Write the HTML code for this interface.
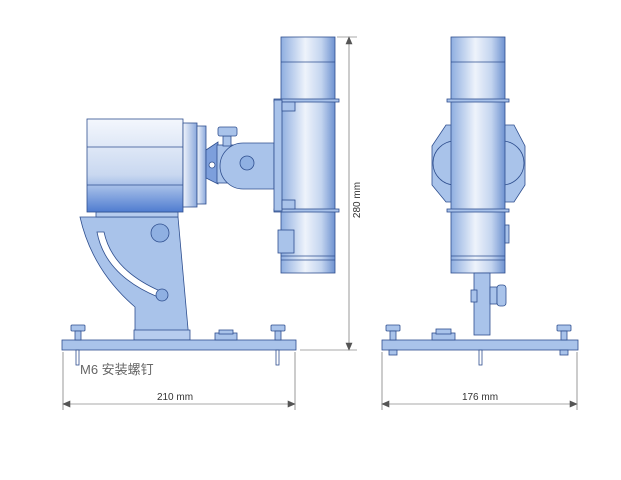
<!DOCTYPE html>
<html><head><meta charset="utf-8"><style>
html,body{margin:0;padding:0;background:#fff;width:621px;height:480px;overflow:hidden}
svg{display:block}
text{font-family:"Liberation Sans","Noto Sans CJK SC",sans-serif;fill:#333}
</style></head><body>
<svg width="621" height="480" viewBox="0 0 621 480">
<defs>
<linearGradient id="tube" x1="0" x2="1" y1="0" y2="0">
<stop offset="0" stop-color="#8eaee0"/><stop offset="0.45" stop-color="#eef3fb"/><stop offset="0.75" stop-color="#c3d4ef"/><stop offset="1" stop-color="#6e92d0"/></linearGradient>
<linearGradient id="cam" x1="0" x2="0" y1="0" y2="1">
<stop offset="0" stop-color="#f4f7fd"/><stop offset="0.6" stop-color="#c9d8f0"/><stop offset="0.75" stop-color="#9db8e6"/><stop offset="1" stop-color="#4f7cd0"/></linearGradient>
<linearGradient id="fl" x1="0" x2="1"><stop offset="0" stop-color="#f0f4fb"/><stop offset="1" stop-color="#8aa8dc"/></linearGradient>
</defs>
<g stroke="#2f4f8f" stroke-width="0.8">
<!-- LEFT VIEW -->
<!-- stand -->
<path d="M80,217 L178,217 L189,340 L135,340 L135,307 Q92,270 80,217 Z" fill="#a9c3ea"/>
<path d="M97,232 Q105,275 158,297 L160,291 Q112,270 104,232 Z" fill="#fff"/>
<circle cx="160" cy="233" r="9" fill="#8fb0e2"/>
<circle cx="162" cy="295" r="6" fill="#8fb0e2"/>
<rect x="134" y="330" width="56" height="10" fill="#b6ccee"/>
<rect x="96" y="212" width="82" height="5" fill="#b6ccee"/>
<!-- camera -->
<rect x="87" y="119" width="96" height="93" fill="url(#cam)"/>
<line x1="87" y1="147" x2="183" y2="147"/><line x1="87" y1="185" x2="183" y2="185"/>
<rect x="183" y="123" width="14" height="84" fill="url(#fl)"/>
<rect x="197" y="126" width="9" height="78" fill="url(#fl)"/>
<!-- joint -->
<path d="M206,150 L218,142 L218,184 L206,178 Z" fill="#7d9fdc"/>
<rect x="217" y="145" width="30" height="38" fill="#a9c3ea"/>
<circle cx="212" cy="165" r="3" fill="#fff"/>
<rect x="223" y="136" width="8" height="10" fill="#a9c3ea"/>
<rect x="218" y="127" width="19" height="9" rx="2" fill="#a9c3ea"/>
<path d="M243,143 L274,143 L274,189 L243,189 A23,23 0 0 1 243,143 Z" fill="#a9c3ea"/>
<circle cx="247" cy="163" r="7" fill="#8fb0e2"/>
<!-- tube -->
<rect x="281" y="37" width="54" height="236" fill="url(#tube)"/>
<line x1="281" y1="62" x2="335" y2="62"/>
<line x1="281" y1="256" x2="335" y2="256"/><line x1="281" y1="260" x2="335" y2="260"/>
<rect x="274" y="99" width="65" height="3" fill="#a9c3ea"/>
<rect x="274" y="209" width="65" height="3" fill="#a9c3ea"/>
<rect x="274" y="100" width="8" height="111" fill="#a9c3ea"/>
<rect x="282" y="102" width="13" height="9" fill="#a9c3ea"/>
<rect x="282" y="200" width="13" height="9" fill="#a9c3ea"/>
<rect x="278" y="230" width="16" height="23" fill="#a9c3ea"/>
<!-- base -->
<rect x="62" y="340" width="234" height="10" fill="#a9c3ea"/>
<rect x="71" y="325" width="14" height="6" rx="1" fill="#a9c3ea"/>
<rect x="75" y="331" width="6" height="9" fill="#a9c3ea"/>
<rect x="271" y="325" width="14" height="6" rx="1" fill="#a9c3ea"/>
<rect x="275" y="331" width="6" height="9" fill="#a9c3ea"/>
<rect x="76" y="350" width="3" height="15" fill="#fff"/>
<rect x="276" y="350" width="3" height="15" fill="#fff"/>
<rect x="215" y="333" width="22" height="7" fill="#a9c3ea"/>
<rect x="219" y="330" width="14" height="4" fill="#a9c3ea"/>
<!-- RIGHT VIEW -->
<path d="M446,125 L514,125 L525,146 L525,185 L514,202 L446,202 L432,185 L432,146 Z" fill="#a9c3ea"/>
<circle cx="455" cy="163" r="22" fill="none"/><circle cx="502" cy="163" r="22" fill="none"/>
<rect x="451" y="37" width="54" height="236" fill="url(#tube)"/>
<line x1="451" y1="62" x2="505" y2="62"/>
<line x1="451" y1="256" x2="505" y2="256"/><line x1="451" y1="260" x2="505" y2="260"/>
<rect x="447" y="99" width="62" height="3" fill="#a9c3ea"/>
<rect x="447" y="209" width="62" height="3" fill="#a9c3ea"/>
<rect x="505" y="225" width="4" height="18" fill="#a9c3ea"/>
<rect x="474" y="273" width="16" height="62" fill="#a9c3ea"/>
<rect x="471" y="290" width="6" height="12" fill="#a9c3ea"/>
<rect x="490" y="287" width="7" height="17" fill="#a9c3ea"/>
<rect x="497" y="285" width="9" height="21" rx="3" fill="#a9c3ea"/>
<rect x="382" y="340" width="196" height="10" fill="#a9c3ea"/>
<rect x="386" y="325" width="14" height="6" rx="1" fill="#a9c3ea"/>
<rect x="390" y="331" width="6" height="9" fill="#a9c3ea"/>
<rect x="557" y="325" width="14" height="6" rx="1" fill="#a9c3ea"/>
<rect x="561" y="331" width="6" height="9" fill="#a9c3ea"/>
<rect x="389" y="350" width="8" height="5" fill="#a9c3ea"/>
<rect x="560" y="350" width="8" height="5" fill="#a9c3ea"/>
<rect x="432" y="333" width="23" height="7" fill="#a9c3ea"/>
<rect x="436" y="329" width="15" height="5" fill="#a9c3ea"/>
<rect x="479" y="350" width="3" height="15" fill="#fff"/>
</g>
<!-- dimensions -->
<g stroke="#555" stroke-width="0.6" fill="#555">
<line x1="337" y1="37" x2="357" y2="37"/><line x1="300" y1="350" x2="357" y2="350"/>
<line x1="349" y1="39" x2="349" y2="348"/>
<path d="M349,37 l-3,7 h6z"/><path d="M349,350 l-3,-7 h6z"/>
<line x1="63" y1="352" x2="63" y2="410"/><line x1="295" y1="352" x2="295" y2="410"/>
<line x1="65" y1="404" x2="293" y2="404"/>
<path d="M63,404 l7,-3 v6z"/><path d="M295,404 l-7,-3 v6z"/>
<line x1="382" y1="352" x2="382" y2="410"/><line x1="577" y1="352" x2="577" y2="410"/>
<line x1="384" y1="404" x2="575" y2="404"/>
<path d="M382,404 l7,-3 v6z"/><path d="M577,404 l-7,-3 v6z"/>
</g>
<text x="360" y="200" font-size="10" text-anchor="middle" transform="rotate(-90 360 200)">280 mm</text>
<text x="175" y="400" font-size="10" text-anchor="middle">210 mm</text>
<text x="480" y="400" font-size="10" text-anchor="middle">176 mm</text>
<text x="80" y="374" font-size="13" style="fill:#666">M6 安装螺钉</text>
</svg>
</body></html>
